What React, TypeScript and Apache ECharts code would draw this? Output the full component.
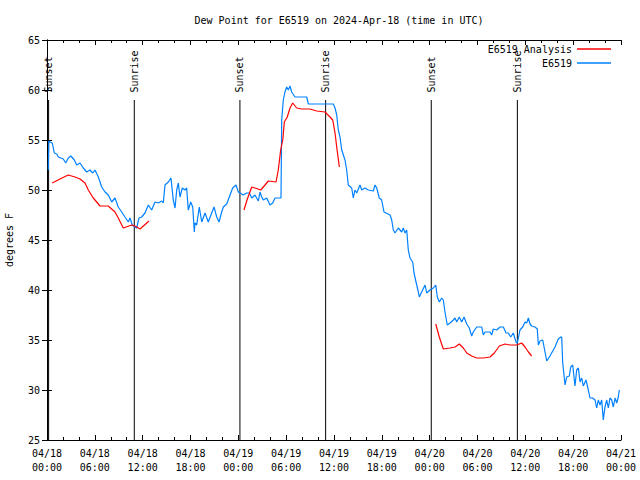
import React, { useEffect, useRef } from "react";
import * as echarts from "echarts";

const TITLE = "Dew Point for E6519 on 2024-Apr-18 (time in UTC)";
const Y_NAME = "degrees F";
const OBS_NAME = "E6519";
const ANA_NAME = "E6519 Analysis";

// x values: hours since 2024-04-18 00:00 UTC
const xTickDates = ["04/18", "04/18", "04/18", "04/18", "04/19", "04/19", "04/19", "04/19", "04/20", "04/20", "04/20", "04/20", "04/21"];
const xTickTimes = ["00:00", "06:00", "12:00", "18:00", "00:00", "06:00", "12:00", "18:00", "00:00", "06:00", "12:00", "18:00", "00:00"];

const sunHours = [0.2, 10.95, 24.2, 34.95, 48.2, 59.0];
const sunLabels = ["Sunset", "Sunrise", "Sunset", "Sunrise", "Sunset", "Sunrise"];

// observed dew point (E6519), [hour, degF]
const obsDay1 = [
  [0.16, 52.0], [0.23, 54.9], [0.38, 54.8], [0.66, 54.7], [0.92, 53.7], [1.22, 53.6], [1.42, 53.3], [2.04, 53.1],
  [2.35, 52.7], [2.67, 53.2], [3.01, 53.4], [3.42, 53.0], [3.73, 52.5], [4.14, 52.7], [4.55, 52.2], [4.98, 51.8],
  [5.39, 52.0], [5.73, 51.7], [6.02, 52.0], [6.44, 51.3], [6.86, 50.3], [7.28, 49.8], [7.69, 49.5], [8.12, 48.8],
  [8.53, 49.2], [8.94, 48.3], [9.37, 47.8], [9.78, 47.3], [10.2, 46.8], [10.41, 47.2], [10.7, 46.5], [11.04, 46.3],
  [11.25, 46.2], [11.54, 47.2], [11.88, 47.3], [12.29, 47.7], [12.71, 48.5], [13.13, 48.0], [13.55, 48.8], [13.96, 48.7],
  [14.39, 48.9], [14.59, 48.7], [14.8, 50.5], [15.22, 50.8], [15.55, 51.2], [15.84, 49.0], [16.06, 48.2], [16.27, 50.0],
  [16.47, 50.7], [16.68, 49.3], [16.97, 50.2], [17.31, 50.0], [17.52, 50.2], [17.72, 48.0], [18.03, 48.8], [18.28, 48.3],
  [18.48, 45.8], [18.56, 46.7], [18.78, 46.5], [19.1, 48.3], [19.41, 46.8], [19.82, 47.7], [20.23, 46.8], [20.66, 47.7],
  [20.95, 48.3], [21.29, 47.3], [21.58, 46.8], [21.91, 47.8], [22.12, 48.3], [22.54, 48.6], [22.96, 49.5], [23.29, 50.2],
  [23.71, 50.5],
];
const obsDay2 = [
  [24.0, 49.8], [24.21, 49.7], [24.62, 49.5], [25.05, 49.7], [25.38, 49.7], [25.68, 49.2], [26.09, 49.5], [26.51, 48.9],
  [26.72, 49.8], [26.93, 49.3], [27.13, 49.0], [27.56, 49.2], [27.97, 48.5], [28.31, 48.7], [28.6, 49.2], [29.23, 49.2],
  [29.35, 49.2], [29.44, 57.0], [29.64, 59.0], [29.85, 59.8], [30.07, 60.3], [30.27, 60.0], [30.48, 60.4], [30.69, 59.8],
  [31.11, 59.3], [32.58, 59.3], [32.78, 58.6], [35.91, 58.6], [36.13, 58.2], [36.34, 57.5], [36.54, 56.0], [36.75, 55.3],
  [36.97, 54.0], [37.38, 53.0], [37.59, 52.0], [37.79, 50.5], [38.22, 50.2], [38.42, 49.2], [38.63, 50.0], [38.85, 49.7],
  [39.26, 50.5], [39.48, 50.0], [39.89, 50.2], [40.3, 50.0], [40.93, 49.9], [41.14, 50.5], [41.36, 50.2], [41.68, 49.2],
  [41.98, 49.0], [42.27, 47.8], [43.03, 47.5], [43.24, 47.0], [43.44, 46.0], [43.65, 45.7], [44.07, 46.2], [44.49, 45.8],
  [44.69, 46.2], [44.91, 45.7], [45.12, 46.0], [45.32, 44.0], [45.53, 43.2], [45.87, 42.8], [46.04, 41.7], [46.29, 40.8],
  [46.58, 39.8], [46.7, 39.3], [47.0, 39.8], [47.42, 40.5], [47.63, 39.7],
];
const obsDay3 = [
  [48.04, 40.0], [48.46, 40.2], [48.76, 40.5], [48.96, 39.3], [49.21, 38.8], [49.51, 39.2], [49.71, 39.0], [49.92, 37.8],
  [50.21, 36.5], [50.55, 36.7], [50.97, 37.0], [51.18, 37.2], [51.39, 36.8], [51.72, 37.3], [52.02, 36.8], [52.31, 37.3],
  [52.65, 36.6], [52.97, 36.2], [53.27, 35.4], [53.47, 35.8], [53.9, 36.3], [54.53, 36.3], [54.73, 35.5], [54.94, 35.8],
  [55.57, 35.8], [55.78, 35.5], [55.98, 36.1], [56.41, 36.0], [56.82, 36.3], [57.24, 36.3], [57.58, 35.7], [57.87, 35.7],
  [58.17, 35.3], [58.49, 35.7], [58.83, 34.8], [59.0, 34.7], [59.33, 36.0], [59.67, 36.3], [59.96, 36.8], [60.17, 36.7],
  [60.38, 37.2], [60.59, 36.6], [60.8, 36.4], [61.21, 36.3], [61.5, 36.1], [61.63, 34.5], [61.84, 34.9], [62.18, 35.0],
  [62.47, 33.8], [62.68, 32.9], [63.09, 33.4], [63.72, 34.3], [64.14, 35.1], [64.44, 35.3], [64.56, 35.3], [64.69, 32.7],
  [64.98, 30.5], [65.19, 31.3], [65.52, 31.4], [65.69, 32.3], [65.94, 32.5], [66.23, 30.4], [66.44, 32.0], [66.65, 32.2],
  [66.86, 30.8], [67.07, 31.2], [67.27, 30.4], [67.61, 31.0], [67.9, 30.0], [68.11, 29.2], [68.45, 29.2], [68.74, 29.0],
  [68.95, 28.2], [69.15, 29.0], [69.37, 28.5], [69.58, 29.0], [69.78, 27.0], [69.99, 28.3], [70.21, 29.0], [70.41, 28.2],
  [70.62, 29.2], [70.83, 29.0], [71.04, 28.3], [71.25, 29.2], [71.46, 28.7], [71.66, 29.3], [71.79, 30.0],
];

// analysis dew point (E6519 Analysis), three separate runs
const anaRun1 = [
  [0.66, 50.7], [1.63, 51.1], [2.67, 51.5], [3.51, 51.3], [4.14, 51.1], [4.77, 50.7], [5.18, 50.0], [5.81, 49.2],
  [6.65, 48.4], [7.69, 48.4], [8.53, 47.8], [8.94, 47.2], [9.57, 46.2], [10.62, 46.5], [11.04, 46.4], [11.67, 46.1],
  [12.79, 46.9],
];
const anaRun2 = [
  [24.71, 48.0], [25.13, 49.1], [25.68, 50.3], [26.09, 50.2], [26.81, 50.0], [27.35, 50.5], [27.76, 50.9], [28.73, 50.8],
  [29.01, 52.0], [29.31, 54.0], [29.57, 55.0], [29.77, 56.8], [30.14, 57.3], [30.48, 58.2], [30.82, 58.7], [31.32, 58.2],
  [31.95, 58.1], [32.99, 58.1], [33.83, 57.9], [34.87, 57.8], [35.5, 57.3], [35.84, 57.0], [36.13, 55.7], [36.34, 54.3],
  [36.67, 52.3],
];
const anaRun3 = [
  [48.76, 36.6], [49.21, 35.3], [49.71, 34.1], [50.55, 34.2], [51.18, 34.3], [51.72, 34.6], [52.22, 34.2], [52.65, 33.7],
  [53.27, 33.4], [53.9, 33.2], [54.73, 33.2], [55.57, 33.3], [56.11, 33.7], [56.74, 34.4], [57.45, 34.6], [58.08, 34.5],
  [58.92, 34.5], [59.55, 34.7], [59.96, 34.3], [60.38, 33.8], [60.8, 33.4],
];

const FONT = '"DejaVu Sans Mono", "Liberation Mono", monospace';
const RED = "#ff0000";
const BLUE = "#0080ff";

export default function App() {
  const ref = useRef<HTMLDivElement>(null);
  useEffect(() => {
    if (!ref.current) return;
    const chart = echarts.init(ref.current, undefined, { renderer: "svg" });
    const obs = [...obsDay1, ...obsDay2, ...obsDay3];
    const gap = (h: number) => [h, "-"];
    const ana = [...anaRun1, gap(18), ...anaRun2, gap(42), ...anaRun3];

    const xCommon = {
      type: "value",
      min: 0,
      max: 72,
      interval: 6,
      splitLine: { show: false },
      axisLine: { show: true, lineStyle: { color: "#000", width: 1 } },
      axisTick: { show: true, inside: true, length: 5, lineStyle: { color: "#000" } },
      minorTick: { show: true, splitNumber: 3, length: 3, lineStyle: { color: "#000" } },
      minorSplitLine: { show: false },
    };
    const yCommon = {
      type: "value",
      min: 25,
      max: 65,
      interval: 5,
      splitLine: { show: false },
      axisLine: { show: true, lineStyle: { color: "#000", width: 1 } },
      axisTick: { show: true, inside: true, length: 5, lineStyle: { color: "#000" } },
    };

    const legendCommon = {
      right: 29,
      padding: 0,
      align: "right",
      icon: "rect",
      itemWidth: 34,
      itemHeight: 1.5,
      textStyle: { fontFamily: FONT, fontSize: 10, color: "#000", lineHeight: 12 },
      selectedMode: false,
    };

    chart.setOption({
      animation: false,
      backgroundColor: "#fff",
      title: {
        text: TITLE,
        left: 334,
        textAlign: "center",
        top: 10,
        textStyle: { fontFamily: FONT, fontSize: 10, fontWeight: "normal", color: "#000" },
      },
      legend: [
        { ...legendCommon, data: [ANA_NAME], top: 43 },
        { ...legendCommon, data: [OBS_NAME], top: 57 },
      ],
      grid: { left: 47, right: 19, top: 40, bottom: 40, show: false, containLabel: false, outerBoundsMode: "none" },
      xAxis: [
        {
          ...xCommon,
          position: "bottom",
          axisLabel: {
            show: true,
            margin: 6,
            fontFamily: FONT,
            fontSize: 10,
            lineHeight: 14,
            color: "#000",
            formatter: (v: number) => {
              const i = Math.round(v / 6);
              return xTickDates[i] + "\n" + xTickTimes[i];
            },
          },
        },
        { ...xCommon, position: "top", axisLabel: { show: false } },
      ],
      yAxis: [
        {
          ...yCommon,
          position: "left",
          name: Y_NAME,
          nameLocation: "middle",
          nameGap: 33,
          nameTextStyle: { fontFamily: FONT, fontSize: 10, color: "#000" },
          axisLabel: { show: true, margin: 7, fontFamily: FONT, fontSize: 10, color: "#000" },
        },
        { ...yCommon, position: "right", axisLabel: { show: false } },
      ],
      series: [
        {
          type: "custom",
          silent: true,
          xAxisIndex: 0,
          yAxisIndex: 0,
          data: sunHours.map((h) => [h, 59]),
          renderItem: (params: any, api: any) => {
            const h = api.value(0);
            const top = api.coord([h, 59]);
            const bottom = api.coord([h, 25]);
            const lab = api.coord([h, 59.75]);
            return {
              type: "group",
              children: [
                {
                  type: "line",
                  shape: { x1: top[0], y1: top[1], x2: bottom[0], y2: bottom[1] },
                  style: { stroke: "#000", lineWidth: 1 },
                },
                {
                  type: "text",
                  x: lab[0],
                  y: lab[1],
                  rotation: Math.PI / 2,
                  style: {
                    text: sunLabels[params.dataIndex],
                    fill: "#000",
                    font: "10px " + FONT,
                    align: "left",
                    verticalAlign: "middle",
                  },
                },
              ],
            };
          },
          z: 1,
        },
        {
          name: ANA_NAME,
          type: "line",
          data: ana,
          showSymbol: false,
          symbol: "none",
          connectNulls: false,
          lineStyle: { color: RED, width: 1.2 },
          itemStyle: { color: RED },
          z: 3,
        },
        {
          name: OBS_NAME,
          type: "line",
          data: obs,
          showSymbol: false,
          symbol: "none",
          lineStyle: { color: BLUE, width: 1.2 },
          itemStyle: { color: BLUE },
          z: 2,
        },
      ],
    });
    return () => chart.dispose();
  }, []);
  return (
    <div
      ref={ref}
      style={{ position: "fixed", left: 0, top: 0, width: 640, height: 480, background: "#fff" }}
    />
  );
}
